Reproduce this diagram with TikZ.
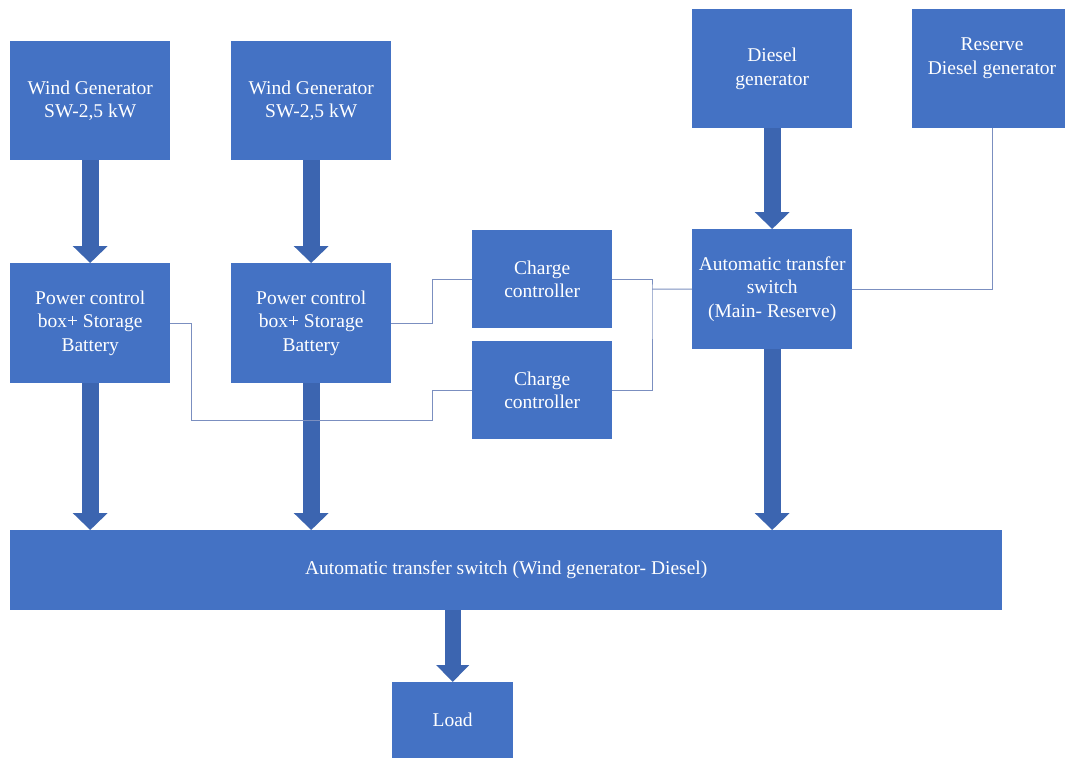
\documentclass[tikz,border=0pt]{standalone}
\usepackage{fontspec}
\setmainfont{Liberation Serif}
\usetikzlibrary{arrows.meta}
\definecolor{boxblue}{HTML}{4472C4}
\definecolor{arrowblue}{HTML}{3C65B0}
\definecolor{wireblue}{HTML}{7B8FC0}
\begin{document}
\begin{tikzpicture}[x=1pt,y=-1pt,
  box/.style={fill=boxblue, draw=none, text=white, align=center,
    font=\fontsize{19.5}{23.5}\selectfont, inner sep=0pt, anchor=north west},
  lbl/.style={text=white, align=center, font=\fontsize{19.5}{23.5}\selectfont, inner sep=0pt},
  bigarrow/.style={arrowblue, line width=17pt, -{Triangle[width=34pt,length=17pt]}},
  smallarrow/.style={arrowblue, line width=16pt, -{Triangle[width=32pt,length=17pt]}},
  wire/.style={wireblue, line width=1pt}]
\clip (0,0) rectangle (1065,758);
\fill[white] (0,0) rectangle (1065,758);
% boxes
\node[box, minimum width=160pt, minimum height=119pt] (wg1) at (10,41) {Wind Generator\\SW-2,5 kW};
\node[box, minimum width=160pt, minimum height=119pt] (wg2) at (231,41) {Wind Generator\\SW-2,5 kW};
\node[box, minimum width=160pt, minimum height=120pt] (pcb1) at (10,263) {Power control\\box+ Storage\\Battery};
\node[box, minimum width=160pt, minimum height=120pt] (pcb2) at (231,263) {Power control\\box+ Storage\\Battery};
\node[box, minimum width=140pt, minimum height=98pt] (cc1) at (472,230) {Charge\\controller};
\node[box, minimum width=140pt, minimum height=98pt] (cc2) at (472,341) {Charge\\controller};
\node[box, minimum width=160pt, minimum height=119pt] (dg) at (692,9) {Diesel\\generator};
\node[box, minimum width=160pt, minimum height=119pt] (res) at (912,9) {};
\node[lbl] (reslbl) at (992,58) {Reserve\\Diesel generator};
\node[box, minimum width=160pt, minimum height=120pt] (ats) at (692,229) {Automatic transfer\\switch\\(Main- Reserve)};
\node[box, minimum width=992pt, minimum height=80pt] (bar) at (10,530) {Automatic transfer switch (Wind generator- Diesel)};
\node[box, minimum width=121pt, minimum height=76pt] (load) at (392,682) {Load};
% block arrows
\draw[bigarrow] (wg1.south) -- (pcb1.north);
\draw[bigarrow] (wg2.south) -- (pcb2.north);
\draw[bigarrow] (dg.south) -- (ats.north);
\draw[bigarrow] (pcb1.south) -- (pcb1.south |- bar.north);
\draw[bigarrow] (pcb2.south) -- (pcb2.south |- bar.north);
\draw[bigarrow] (ats.south) -- (ats.south |- bar.north);
\draw[smallarrow] (load.north |- bar.south) -- (load.north);
% thin wires
\draw[wire] (pcb2.east) -- ++(41,0) |- (cc1.west);
\draw[wire] (pcb1.east) -- ++(21,0) |- (432,420) |- (cc2.west);
\draw[wire] (cc1.east) -| (652,289) coordinate (junc) |- (cc2.east);
\draw[wire] (junc) -- (ats.west);
\draw[wire] (res.south) |- (ats.east);
\end{tikzpicture}
\end{document}
